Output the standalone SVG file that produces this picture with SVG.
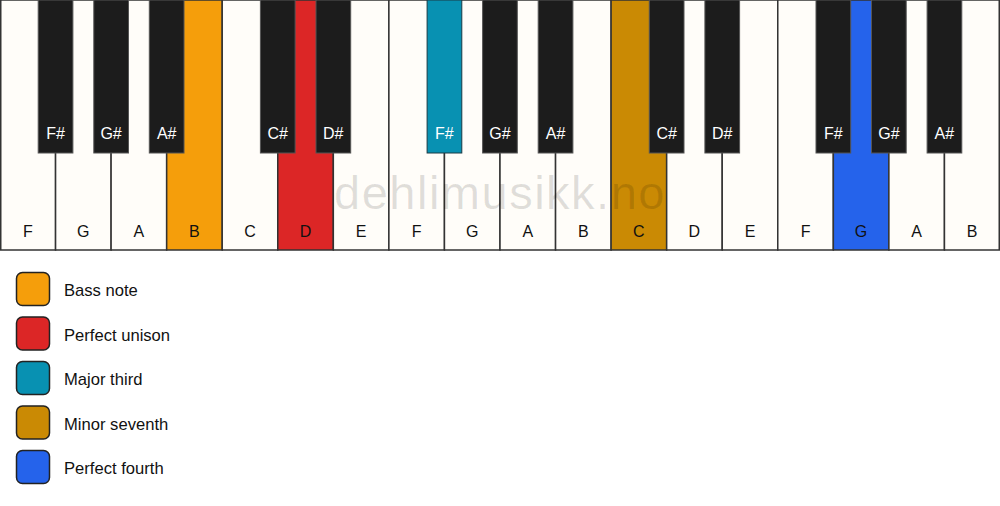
<svg xmlns="http://www.w3.org/2000/svg" width="1000" height="506" viewBox="0 0 1000 506">
<style>
.w{fill:#fffdf9;stroke:#333;stroke-width:1.5}
.b{fill:#1c1c1c;stroke:#555;stroke-width:1}
.wl{font-family:"Liberation Sans",Arial,sans-serif;font-size:16px;fill:#111;text-anchor:middle}
.bl{font-family:"Liberation Sans",Arial,sans-serif;font-size:16px;fill:#fff;text-anchor:middle}
.lg{stroke:#222;stroke-width:1.5}
.lt{font-family:"Liberation Sans",Arial,sans-serif;font-size:16.6px;fill:#111}
.wm{font-family:"Liberation Sans",Arial,sans-serif;font-size:47px;letter-spacing:1.5px;fill:#000;fill-opacity:0.12;text-anchor:middle}
</style>
<rect width="1000" height="506" fill="#ffffff"/>
<g id="white-keys">
<g id="wk0"><rect class="w" x="0.75" y="0" width="54.81" height="250"/><text class="wl" x="27.8" y="237">F</text></g>
<g id="wk1"><rect class="w" x="55.56" y="0" width="55.56" height="250"/><text class="wl" x="83.3" y="237">G</text></g>
<g id="wk2"><rect class="w" x="111.11" y="0" width="55.56" height="250"/><text class="wl" x="138.9" y="237">A</text></g>
<g id="wk3"><rect class="w" x="166.67" y="0" width="55.56" height="250" style="fill:#f59e0b"/><text class="wl" x="194.4" y="237">B</text></g>
<g id="wk4"><rect class="w" x="222.22" y="0" width="55.56" height="250"/><text class="wl" x="250" y="237">C</text></g>
<g id="wk5"><rect class="w" x="277.78" y="0" width="55.56" height="250" style="fill:#dc2626"/><text class="wl" x="305.6" y="237">D</text></g>
<g id="wk6"><rect class="w" x="333.33" y="0" width="55.56" height="250"/><text class="wl" x="361.1" y="237">E</text></g>
<g id="wk7"><rect class="w" x="388.89" y="0" width="55.56" height="250"/><text class="wl" x="416.7" y="237">F</text></g>
<g id="wk8"><rect class="w" x="444.44" y="0" width="55.56" height="250"/><text class="wl" x="472.2" y="237">G</text></g>
<g id="wk9"><rect class="w" x="500" y="0" width="55.56" height="250"/><text class="wl" x="527.8" y="237">A</text></g>
<g id="wk10"><rect class="w" x="555.56" y="0" width="55.56" height="250"/><text class="wl" x="583.3" y="237">B</text></g>
<g id="wk11"><rect class="w" x="611.11" y="0" width="55.56" height="250" style="fill:#ca8a04"/><text class="wl" x="638.9" y="237">C</text></g>
<g id="wk12"><rect class="w" x="666.67" y="0" width="55.56" height="250"/><text class="wl" x="694.4" y="237">D</text></g>
<g id="wk13"><rect class="w" x="722.22" y="0" width="55.56" height="250"/><text class="wl" x="750" y="237">E</text></g>
<g id="wk14"><rect class="w" x="777.78" y="0" width="55.56" height="250"/><text class="wl" x="805.6" y="237">F</text></g>
<g id="wk15"><rect class="w" x="833.33" y="0" width="55.56" height="250" style="fill:#2563eb"/><text class="wl" x="861.1" y="237">G</text></g>
<g id="wk16"><rect class="w" x="888.89" y="0" width="55.56" height="250"/><text class="wl" x="916.7" y="237">A</text></g>
<g id="wk17"><rect class="w" x="944.44" y="0" width="54.81" height="250"/><text class="wl" x="972.2" y="237">B</text></g>
</g>
<g id="black-keys">
<g id="bk1"><rect class="b" x="38.2" y="0" width="34.7" height="153"/><text class="bl" x="55.6" y="139">F#</text></g>
<g id="bk2"><rect class="b" x="93.8" y="0" width="34.7" height="153"/><text class="bl" x="111.1" y="139">G#</text></g>
<g id="bk3"><rect class="b" x="149.3" y="0" width="34.7" height="153"/><text class="bl" x="166.7" y="139">A#</text></g>
<g id="bk5"><rect class="b" x="260.4" y="0" width="34.7" height="153"/><text class="bl" x="277.8" y="139">C#</text></g>
<g id="bk6"><rect class="b" x="316" y="0" width="34.7" height="153"/><text class="bl" x="333.3" y="139">D#</text></g>
<g id="bk8"><rect class="b" x="427.1" y="0" width="34.7" height="153" style="fill:#0891b2;stroke:#1a3a44"/><text class="bl" x="444.4" y="139">F#</text></g>
<g id="bk9"><rect class="b" x="482.6" y="0" width="34.7" height="153"/><text class="bl" x="500" y="139">G#</text></g>
<g id="bk10"><rect class="b" x="538.2" y="0" width="34.7" height="153"/><text class="bl" x="555.6" y="139">A#</text></g>
<g id="bk12"><rect class="b" x="649.3" y="0" width="34.7" height="153"/><text class="bl" x="666.7" y="139">C#</text></g>
<g id="bk13"><rect class="b" x="704.9" y="0" width="34.7" height="153"/><text class="bl" x="722.2" y="139">D#</text></g>
<g id="bk15"><rect class="b" x="816" y="0" width="34.7" height="153"/><text class="bl" x="833.3" y="139">F#</text></g>
<g id="bk16"><rect class="b" x="871.5" y="0" width="34.7" height="153"/><text class="bl" x="888.9" y="139">G#</text></g>
<g id="bk17"><rect class="b" x="927.1" y="0" width="34.7" height="153"/><text class="bl" x="944.4" y="139">A#</text></g>
</g>
<text class="wm" x="500" y="209">dehlimusikk.no</text>
<g id="legend">
<g id="lg1"><rect class="lg" x="16.5" y="272.5" width="33" height="33" rx="6" fill="#f59e0b"/><text class="lt" x="64" y="296">Bass note</text></g>
<g id="lg2"><rect class="lg" x="16.5" y="317" width="33" height="33" rx="6" fill="#dc2626"/><text class="lt" x="64" y="340.5">Perfect unison</text></g>
<g id="lg3"><rect class="lg" x="16.5" y="361.5" width="33" height="33" rx="6" fill="#0891b2"/><text class="lt" x="64" y="385">Major third</text></g>
<g id="lg4"><rect class="lg" x="16.5" y="406" width="33" height="33" rx="6" fill="#ca8a04"/><text class="lt" x="64" y="429.5">Minor seventh</text></g>
<g id="lg5"><rect class="lg" x="16.5" y="450.5" width="33" height="33" rx="6" fill="#2563eb"/><text class="lt" x="64" y="474">Perfect fourth</text></g>
</g>
</svg>
